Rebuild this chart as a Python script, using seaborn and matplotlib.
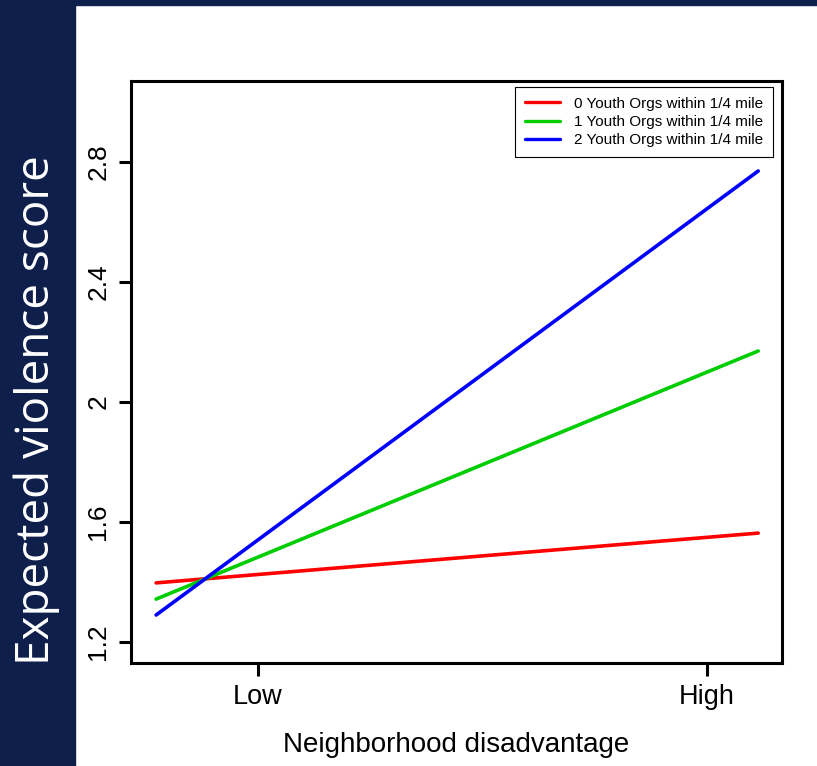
import pandas as pd
import seaborn as sns
import matplotlib.pyplot as plt
from matplotlib.patches import Rectangle

# predicted values at the two ends of the disadvantage range
x_ends = [-0.227, 1.114]
groups = ["0 Youth Orgs within 1/4 mile",
          "1 Youth Orgs within 1/4 mile",
          "2 Youth Orgs within 1/4 mile"]
red_vals = [1.397, 1.563]
green_vals = [1.343, 2.170]
blue_vals = [1.290, 2.770]
colors = ["#FF0000", "#00CD00", "#0000FF"]

x_ticks = [0, 1]
x_labels = ["Low", "High"]
y_ticks = [1.2, 1.6, 2.0, 2.4, 2.8]
y_labels = ["1.2", "1.6", "2", "2.4", "2.8"]

df = pd.DataFrame({
    "x": x_ends * 3,
    "y": red_vals + green_vals + blue_vals,
    "group": [g for g in groups for _ in x_ends],
})

sns.set_style("white")
plt.rcParams["font.family"] = ["Liberation Sans", "DejaVu Sans"]
plt.rcParams["text.color"] = "black"
plt.rcParams["axes.labelcolor"] = "black"
plt.rcParams["xtick.color"] = "black"
plt.rcParams["ytick.color"] = "black"

navy = "#0E1F4C"
fig = plt.figure(figsize=(8.17, 7.66), dpi=100)
fig.patches.append(Rectangle((0, 0), 75 / 817, 1, transform=fig.transFigure,
                             color=navy, zorder=0))
fig.patches.append(Rectangle((0, 1 - 5 / 766), 1, 5 / 766, transform=fig.transFigure,
                             color=navy, zorder=0))

ax = fig.add_axes([131 / 817, 1 - 663 / 766, 651 / 817, 582 / 766])
sns.lineplot(data=df, x="x", y="y", hue="group", palette=colors, linewidth=2.6, ax=ax)

ax.set_xlim(-0.283, 1.167)
ax.set_ylim(1.13, 3.07)
ax.set_xticks(x_ticks)
ax.set_xticklabels(x_labels, fontsize=19.5)
ax.set_yticks(y_ticks)
ax.set_yticklabels(y_labels, fontsize=19, rotation=90, va="center")
ax.tick_params(axis="both", length=9, width=2.2, color="black", direction="out",
               left=True, bottom=True, pad=6)
for s in ax.spines.values():
    s.set_color("black")
    s.set_linewidth(2.2)

ax.set_xlabel("Neighborhood disadvantage", fontsize=20, labelpad=16)
ax.set_ylabel("")

leg = ax.legend(loc="upper right", bbox_to_anchor=(0.986, 0.99), fontsize=11,
                frameon=True, fancybox=False, edgecolor="black", framealpha=1,
                handlelength=2.3, borderpad=0.65, labelspacing=0.28, borderaxespad=0,
                handletextpad=0.9)
leg.get_frame().set_linewidth(0.8)
for h in leg.get_lines():
    h.set_linewidth(2.4)

fig.text(37 / 817, 1 - 410 / 766, "Expected violence score", color="white",
         fontsize=33, family="Open Sans", rotation=90, ha="center", va="center")

fig.savefig("out.png", dpi=100)
